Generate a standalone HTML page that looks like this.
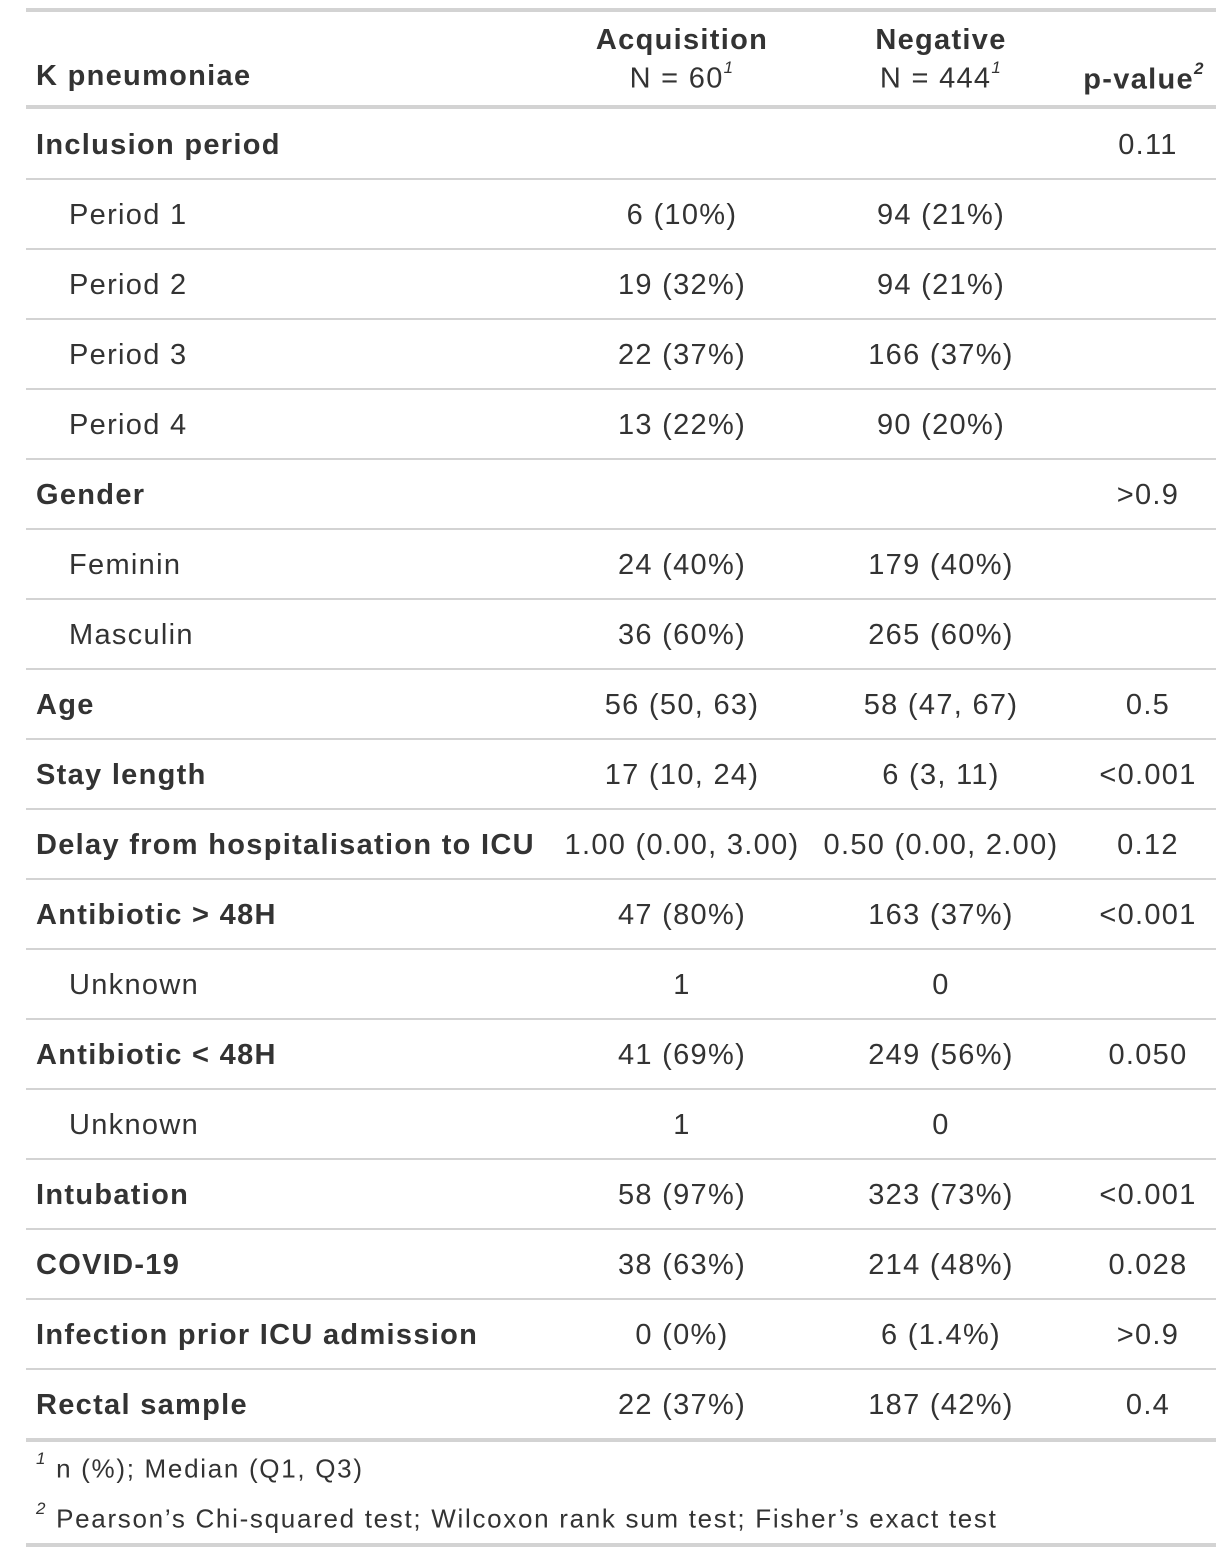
<!DOCTYPE html>
<html><head><meta charset="utf-8">
<style>
html,body{margin:0;padding:0;background:#fff;}
body{width:1216px;height:1554px;position:relative;overflow:hidden;font-family:"Liberation Sans",sans-serif;color:#333;}
.ln{position:absolute;left:26px;width:1190px;background:#d3d3d3;}
.t{position:absolute;font-size:29px;line-height:34px;white-space:nowrap;letter-spacing:1.3px;}
.b{font-weight:bold;}
.c{transform:translateX(-50%);}
sup{font-size:17px;font-style:italic;position:relative;top:-4px;}
</style></head><body>
<div class="ln" style="top:8px;height:4px"></div>
<div class="t b" style="left:36px;top:59px">K pneumoniae</div>
<div class="t b c" style="left:682px;top:23px">Acquisition</div>
<div class="t c" style="left:682px;top:55px">N = 60<sup>1</sup></div>
<div class="t b c" style="left:941px;top:23px">Negative</div>
<div class="t c" style="left:941px;top:55px">N = 444<sup>1</sup></div>
<div class="t b c" style="left:1144px;top:56px">p-value<sup>2</sup></div>
<div class="ln" style="top:105px;height:4px"></div>
<div id="rows"></div>
<div class="t" style="left:36px;top:1446px;font-size:26px;letter-spacing:1.7px"><sup>1</sup> n (%); Median (Q1, Q3)</div>
<div class="t" style="left:36px;top:1496px;font-size:26px;letter-spacing:1.7px"><sup>2</sup> Pearson’s Chi-squared test; Wilcoxon rank sum test; Fisher’s exact test</div>
<div class="ln" style="top:1543px;height:4px"></div>
<script>
const labels=["Inclusion period","Period 1","Period 2","Period 3","Period 4","Gender","Feminin","Masculin","Age","Stay length","Delay from hospitalisation to ICU","Antibiotic > 48H","Unknown","Antibiotic < 48H","Unknown","Intubation","COVID-19","Infection prior ICU admission","Rectal sample"];
const indent=[0,1,1,1,1,0,1,1,0,0,0,0,1,0,1,0,0,0,0];
const acq=["","6 (10%)","19 (32%)","22 (37%)","13 (22%)","","24 (40%)","36 (60%)","56 (50, 63)","17 (10, 24)","1.00 (0.00, 3.00)","47 (80%)","1","41 (69%)","1","58 (97%)","38 (63%)","0 (0%)","22 (37%)"];
const neg=["","94 (21%)","94 (21%)","166 (37%)","90 (20%)","","179 (40%)","265 (60%)","58 (47, 67)","6 (3, 11)","0.50 (0.00, 2.00)","163 (37%)","0","249 (56%)","0","323 (73%)","214 (48%)","6 (1.4%)","187 (42%)"];
const pv=["0.11","","","","",">0.9","","","0.5","<0.001","0.12","<0.001","","0.050","","<0.001","0.028",">0.9","0.4"];
const root=document.getElementById('rows');
function mk(cls,txt,left,top){const d=document.createElement('div');d.className=cls;d.textContent=txt;d.style.left=left+'px';d.style.top=top+'px';root.appendChild(d);return d;}
labels.forEach((l,i)=>{
  const y=128+i*70;
  const a=mk('t'+(indent[i]?'':' b'),l,indent[i]?69:36,y);
  
  
  const b=mk('t c',acq[i],682,y);
  
  
  const c=mk('t c',neg[i],941,y);
  
  
  const p=mk('t c',pv[i],1148,y);
  
  
  if(i<labels.length-1){
    const ln=document.createElement('div');ln.className='ln';ln.style.top=(178+i*70)+'px';ln.style.height='2px';
    
    
    root.appendChild(ln);
  } else {
    const ln=document.createElement('div');ln.className='ln';ln.style.top=(1438)+'px';ln.style.height='4px';
    
    
    root.appendChild(ln);
  }
});
</script>
</body></html>
